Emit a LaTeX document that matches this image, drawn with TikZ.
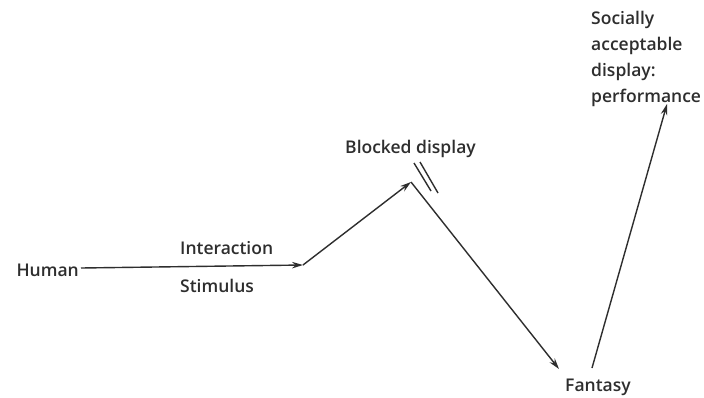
\documentclass[tikz,border=0pt]{standalone}
\usepackage{fontspec}
\setmainfont{Open Sans}
\IfFontExistsTF{Open Sans SemiBold}{\newfontfamily\lblfont{Open Sans SemiBold}}{%
 \IfFontExistsTF{Open Sans Semibold}{\newfontfamily\lblfont{Open Sans Semibold}}{%
  \newfontfamily\lblfont{Open Sans}}}
\usetikzlibrary{arrows.meta}
\definecolor{ink}{HTML}{2E2E2E}
\begin{document}
\begin{tikzpicture}[x=1pt,y=-1pt,
  lbl/.style={inner sep=0pt,text=ink,font=\lblfont\fontsize{17.5}{26}\selectfont},
  conn/.style={draw=ink,line width=1.4pt,-{Stealth[length=11pt,width=6.5pt]}},
  plain/.style={draw=ink,line width=1.4pt}]
\useasboundingbox (0,0) rectangle (704,397);
\fill[white] (0,0) rectangle (704,397);
\node[lbl,anchor=east] (human) at (79,270) {Human};
\coordinate (j1) at (303,265);
\coordinate (peak) at (411,182);
\coordinate (f1) at (559,369);
\coordinate (f2) at (592,368);
\coordinate (s1) at (667,104);
\node[lbl,anchor=base west] (inter) at (180,254) {Interaction};
\node[lbl,anchor=base west] (stim) at (180,292) {Stimulus};
\node[lbl,anchor=base west] (blocked) at (345,153) {Blocked display};
\node[lbl,anchor=base west] (fantasy) at (565,391) {Fantasy};
\node[lbl,anchor=north west,align=left] (social) at (591,11) {Socially\\acceptable\\display:\\performance};
\draw[conn] (human.east) ++(2,-2) -- (j1);
\draw[conn] (j1) -- (peak);
\draw[conn] (peak) -- (f1);
\draw[conn] (f2) -- (s1);
\coordinate (b1a) at (414,163);
\coordinate (b1b) at (431,191);
\coordinate (b2a) at (420,162);
\coordinate (b2b) at (438,193);
\draw[plain] (b1a) -- (b1b);
\draw[plain] (b2a) -- (b2b);
\end{tikzpicture}
\end{document}
